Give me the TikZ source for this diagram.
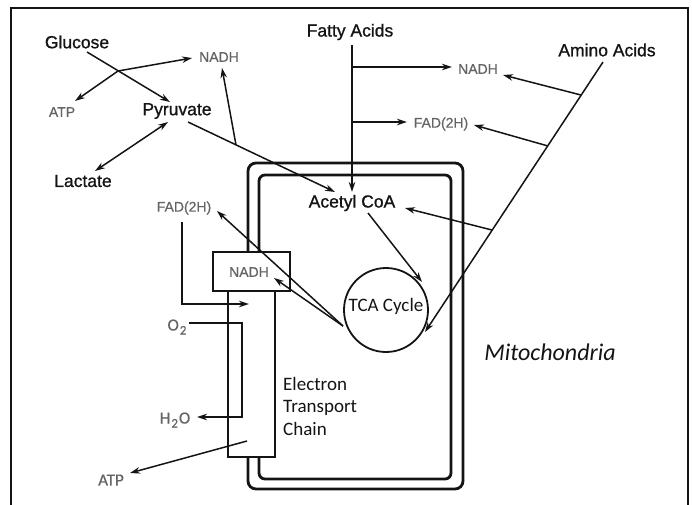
\documentclass[tikz,border=0pt]{standalone}
\usepackage{fontspec}
\setmainfont{Liberation Sans}
\newfontfamily\heavyfont{Liberation Sans}[FakeBold=1]
\newfontfamily\midfont{Liberation Sans}[FakeBold=0.6]
\newfontfamily\calfont{Carlito}
\newfontfamily\calmid{Carlito}[FakeBold=0.6]
\usetikzlibrary{arrows.meta}
\definecolor{lbl}{RGB}{100,100,100}
\definecolor{ink}{RGB}{20,20,20}
\newcommand{\lowtwo}{\raisebox{-4pt}{\fontsize{13}{14}\selectfont 2}}
\begin{document}
\begin{tikzpicture}[x=1pt,y=-1pt,
  lab/.style={inner sep=0pt, text=ink, font=\heavyfont\fontsize{17.5}{20}\selectfont},
  glab/.style={inner sep=0pt, text=lbl, font=\midfont\fontsize{14}{16}\selectfont},
  clab/.style={inner sep=0pt, text=lbl, font=\calmid\fontsize{17}{20}\selectfont},
  arr/.style={draw=ink, line width=1.5pt, -{Stealth[length=10pt,width=6.5pt]}},
  darr/.style={draw=ink, line width=1.5pt, {Stealth[length=10pt,width=6.5pt]}-{Stealth[length=10pt,width=6.5pt]}},
  plain/.style={draw=ink, line width=1.5pt},
  wall/.style={draw=ink, line width=2.8pt},
  etcbox/.style={draw=ink, fill=white, line width=1.8pt}
]
\useasboundingbox (0,0) rectangle (692,504);
% frame
\draw[line width=1.5pt, draw=ink] (11,510) -- (11,8) -- (688,8) -- (688,510);

% mitochondrion walls
\draw[wall, rounded corners=8pt] (248,163) rectangle (463,489);
\draw[wall, rounded corners=6pt] (259,175) rectangle (451,479);

% electron transport chain
\draw[etcbox] (228,291) rectangle (275,457);
\draw[etcbox] (213,252) rectangle (290,291);
\node[glab] (nadhbox) at (249,272) {NADH};

% labels
\node[lab] (glu) at (77,42) {Glucose};
\node[glab] (atp1) at (62,112) {ATP};
\node[glab] (nadh1) at (219,57) {NADH};
\node[lab] (pyr) at (177,111) {Pyruvate};
\node[lab] (lac) at (83,181) {Lactate};
\node[lab] (fa) at (350,32) {Fatty Acids};
\node[glab] (nadh2) at (478,69) {NADH};
\node[glab] (fad1) at (441,124) {FAD(2H)};
\node[lab] (aa) at (607,50) {Amino Acids};
\node[lab] (acoa) at (352,203) {Acetyl CoA};
\node[glab] (fad2) at (184,208) {FAD(2H)};
\node[clab] (o2) at (177,327) {O\kern1pt\lowtwo};
\node[clab] (h2o) at (175,420) {H\kern1pt\lowtwo\kern1pt O};
\node[clab] (atp2) at (111,480) {ATP};
\node[inner sep=0pt, anchor=west, align=left, text=ink,
      font=\calfont\fontsize{19}{22.5}\selectfont] (etc) at (283,406) {Electron\\Transport\\Chain};
\node[inner sep=0pt, text=ink, font=\calfont\itshape\fontsize{24}{28}\selectfont] (mito) at (550,352) {Mitochondria};

% TCA cycle
\draw[plain, line width=1.8pt] (386,310) circle (42);
\node[inner sep=0pt, text=ink, font=\calfont\fontsize{19}{22}\selectfont] (tca) at (386,306) {TCA Cycle};

% coordinates
\coordinate (gluS) at (87,52);
\coordinate (pyrT) at (170,102);
\coordinate (X) at (118,71);
\coordinate (atp1T) at (75,101);
\coordinate (nadh1T) at (192,58);
\coordinate (lacT) at (95,171);
\coordinate (pyrB) at (168,122);
\coordinate (pyrS) at (188,122);
\coordinate (acoaT1) at (335,192);
\coordinate (pB) at (236,145);
\coordinate (nadh1T2) at (222,68);
\coordinate (faS) at (352,45);
\coordinate (acoaT2) at (352,192);
\coordinate (fa1) at (352,67);
\coordinate (nadh2T) at (452,67);
\coordinate (fa2) at (352,122);
\coordinate (fad1T) at (407,122);
\coordinate (aaS) at (603,62);
\coordinate (tcaT2) at (425,332);
\coordinate (a1) at (581,95);
\coordinate (nadh2T2) at (503,75);
\coordinate (a2) at (548,146);
\coordinate (fad1T2) at (474,125);
\coordinate (a3) at (492,230);
\coordinate (acoaT3) at (405,208);
\coordinate (acoaS) at (368,213);
\coordinate (tcaT1) at (422,282);
\coordinate (tcaL) at (343,326);
\coordinate (fad2T) at (217,211);
\coordinate (nadhboxT) at (274,278);
\coordinate (fad2S) at (182,222);
\coordinate (fad2C) at (182,304);
\coordinate (colT1) at (249,304);
\coordinate (o2S) at (189,323);
\coordinate (o2C1) at (242,323);
\coordinate (o2C2) at (242,417);
\coordinate (h2oT) at (197,417);
\coordinate (colS) at (247,441);
\coordinate (atp2T) at (130,473);

% glycolysis
\draw[arr] (gluS) -- (pyrT);
\draw[darr] (atp1T) -- (X) -- (nadh1T);
\draw[darr] (lacT) -- (pyrB);
\draw[arr] (pyrS) -- (acoaT1);
\draw[arr] (pB) -- (nadh1T2);

% fatty acids
\draw[arr] (faS) -- (acoaT2);
\draw[arr] (fa1) -- (nadh2T);
\draw[arr] (fa2) -- (fad1T);

% amino acids
\draw[arr] (aaS) -- (tcaT2);
\draw[arr] (a1) -- (nadh2T2);
\draw[arr] (a2) -- (fad1T2);
\draw[arr] (a3) -- (acoaT3);

% TCA
\draw[arr] (acoaS) -- (tcaT1);
\draw[arr] (tcaL) -- (fad2T);
\draw[arr] (tcaL) -- (nadhboxT);

% ETC
\draw[arr] (fad2S) -- (fad2C) -- (colT1);
\draw[arr] (o2S) -- (o2C1) -- (o2C2) -- (h2oT);
\draw[arr] (colS) -- (atp2T);
\end{tikzpicture}
\end{document}
